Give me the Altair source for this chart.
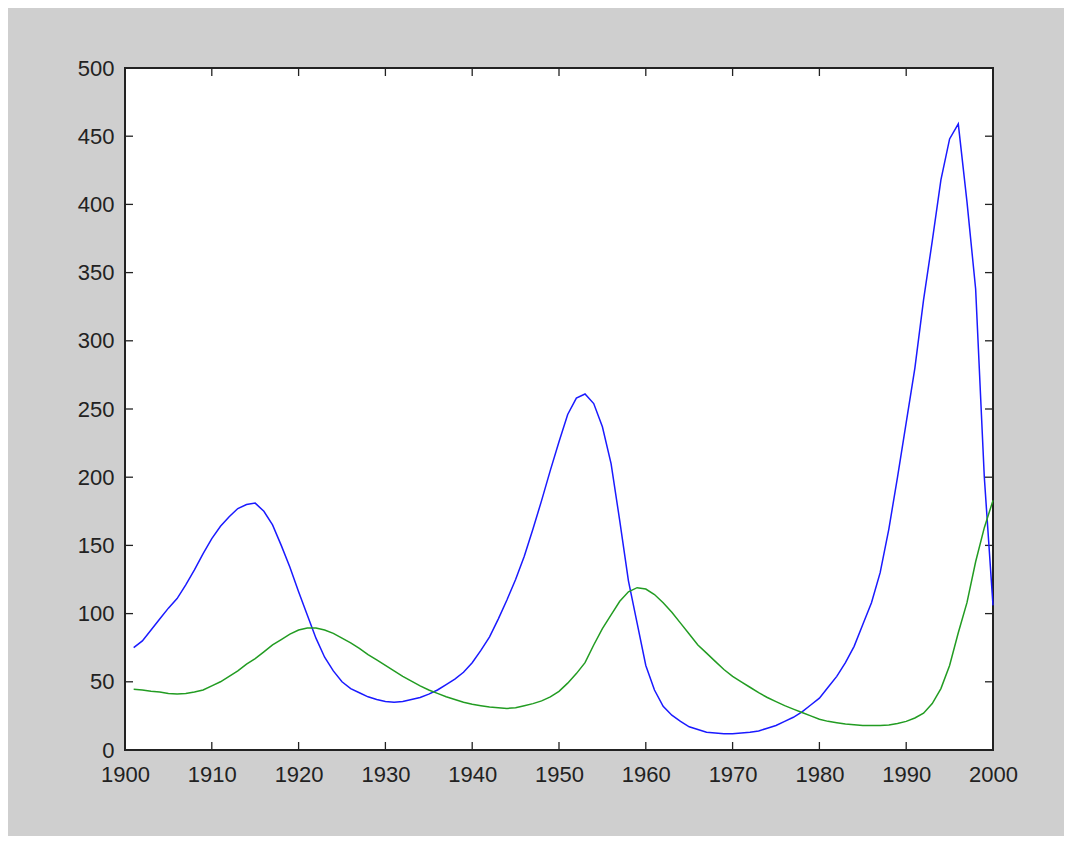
import altair as alt
import pandas as pd

years = list(range(1901, 2001))

prey = [
    75, 80, 88, 96, 104, 111, 121, 132, 144, 155,          # 1901-1910
    164, 171, 177, 180, 181, 175, 165, 150, 134, 116,      # 1911-1920
    99, 82, 68, 58, 50, 45, 42, 39, 37, 35.5,              # 1921-1930
    35, 35.5, 37, 38.5, 41, 44, 48, 52, 57, 64,            # 1931-1940
    73, 83, 96, 110, 125, 142, 162, 183, 205, 226,         # 1941-1950
    246, 258, 261, 254, 237, 210, 168, 124, 93, 62,        # 1951-1960
    44, 32, 25.5, 21, 17, 15, 13, 12.5, 12, 12,            # 1961-1970
    12.5, 13, 14, 16, 18, 21, 24, 28, 33, 38,              # 1971-1980
    46, 54, 64, 76, 92, 108, 130, 162, 200, 240,           # 1981-1990
    280, 330, 373, 418, 448, 459, 402, 338, 200, 106,      # 1991-2000
]

predator = [
    44.5, 44, 43, 42.5, 41.5, 41, 41.5, 42.5, 44, 47,      # 1901-1910
    50, 54, 58, 63, 67, 72, 77, 81, 85, 88,                # 1911-1920
    89.5, 89.5, 88, 85.5, 82, 78.5, 74.5, 70, 66, 62,      # 1921-1930
    58, 54, 50.5, 47, 44, 41.5, 39, 37, 35, 33.5,          # 1931-1940
    32.5, 31.5, 31, 30.5, 31, 32.5, 34, 36, 39, 43,        # 1941-1950
    49, 56, 64, 77, 89, 99, 109, 116, 119, 118,            # 1951-1960
    114, 108, 101, 93, 85, 77, 71, 65, 59, 54,             # 1961-1970
    50, 46, 42, 38.5, 35.5, 32.5, 30, 27.5, 25, 22.5,      # 1971-1980
    21, 20, 19, 18.5, 18, 18, 18, 18.3, 19.5, 21,          # 1981-1990
    23.5, 27, 34, 45, 62, 86, 108, 138, 163, 183,          # 1991-2000
]

series_names = ["prey", "predator"]
series_colors = ["#1a1aff", "#229c22"]

x_ticks = list(range(1900, 2001, 10))
y_ticks = list(range(0, 501, 50))

W, H = 868, 682
TICK = 8
AXIS_COLOR = "#222222"
FONT = "Liberation Sans"

df = pd.DataFrame({
    "year": years * 2,
    "value": prey + predator,
    "series": ["prey"] * len(years) + ["predator"] * len(years),
})
xt = pd.DataFrame({"t": x_ticks})
yt = pd.DataFrame({"v": y_ticks})

xscale = alt.Scale(domain=[1900, 2000], nice=False, zero=False)
yscale = alt.Scale(domain=[0, 500], nice=False)

lines = alt.Chart(df).mark_line(strokeWidth=1.5).encode(
    x=alt.X("year:Q", scale=xscale, title=None,
            axis=alt.Axis(values=x_ticks, format="d", ticks=False, domain=False,
                          grid=False, labelFontSize=22, labelFont=FONT,
                          labelColor=AXIS_COLOR, labelPadding=14,
                          labelFlush=False, labelOverlap=False)),
    y=alt.Y("value:Q", scale=yscale, title=None,
            axis=alt.Axis(values=y_ticks, ticks=False, domain=False, grid=False,
                          labelFontSize=22, labelFont=FONT,
                          labelColor=AXIS_COLOR, labelPadding=11,
                          labelFlush=False, labelOverlap=False)),
    color=alt.Color("series:N", scale=alt.Scale(domain=series_names, range=series_colors),
                    legend=None),
    detail="series:N",
)

tick_style = dict(color=AXIS_COLOR, strokeWidth=1.3)
bottom = alt.Chart(xt).mark_rule(**tick_style).encode(
    x=alt.X("t:Q", scale=xscale), y=alt.value(H), y2=alt.value(H - TICK))
top = alt.Chart(xt).mark_rule(**tick_style).encode(
    x=alt.X("t:Q", scale=xscale), y=alt.value(0), y2=alt.value(TICK))
left = alt.Chart(yt).mark_rule(**tick_style).encode(
    y=alt.Y("v:Q", scale=yscale), x=alt.value(0), x2=alt.value(TICK))
right = alt.Chart(yt).mark_rule(**tick_style).encode(
    y=alt.Y("v:Q", scale=yscale), x=alt.value(W), x2=alt.value(W - TICK))

chart = alt.layer(bottom, top, left, right, lines).properties(
    width=W, height=H,
    autosize=alt.AutoSizeParams(type="none"),
    padding={"left": 117, "top": 60, "right": 71, "bottom": 86},
    background="#cfcfcf",
).configure_view(
    fill="white", stroke=AXIS_COLOR, strokeWidth=2,
)

chart.save("out.html", embed_options={"renderer": "svg", "actions": False})
